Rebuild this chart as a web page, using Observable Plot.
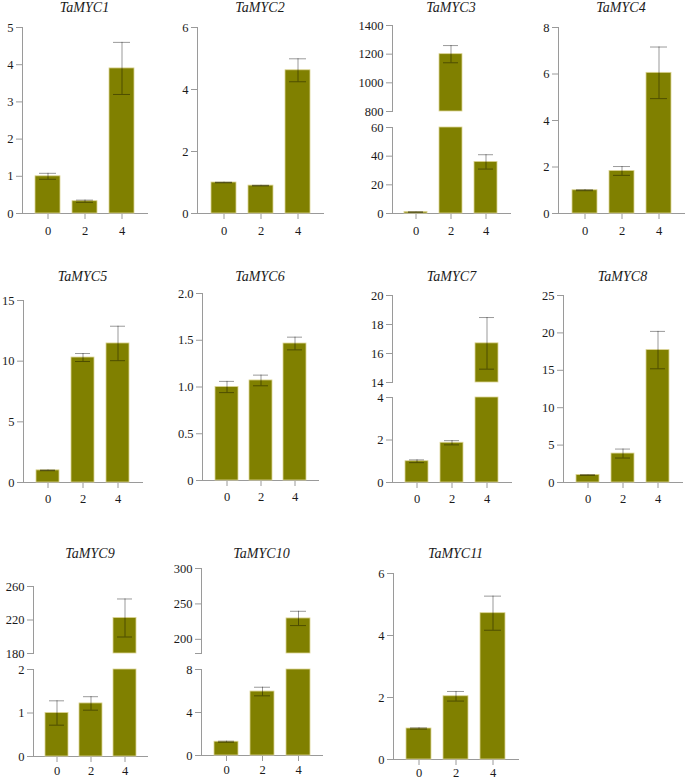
<!DOCTYPE html>
<html>
<head>
<meta charset="utf-8">
<script src="https://cdn.jsdelivr.net/npm/d3@7"></script>
<script src="https://cdn.jsdelivr.net/npm/@observablehq/plot@0.6"></script>
<style>
  html, body { margin: 0; padding: 0; background: #fff; }
  #root { position: relative; width: 685px; height: 783px; background: #fff; overflow: hidden; }
  .seg { position: absolute; }
  .seg svg { display: block; max-width: none; }
  .seg svg text { fill: #1a1a1a; font-family: "Liberation Serif", "Times New Roman", Times, Tinos, "DejaVu Serif", serif; }
  .ttl { position: absolute; font-family: "Liberation Serif", "Times New Roman", Times, Tinos, "DejaVu Serif", serif; font-style: italic;
         font-size: 14px; line-height: 16px; color: #1a1a1a; text-align: center; white-space: nowrap; }
</style>
</head>
<body>
<div id="root"></div>
<script>
// ---------------- data ----------------
const days = ["0", "2", "4"];
const genes = ["TaMYC1","TaMYC2","TaMYC3","TaMYC4","TaMYC5","TaMYC6","TaMYC7","TaMYC8","TaMYC9","TaMYC10","TaMYC11"];

const TaMYC1_mean = [1.0, 0.33, 3.9];   const TaMYC1_sd = [0.08, 0.03, 0.7];
const TaMYC2_mean = [1.0, 0.9, 4.62];   const TaMYC2_sd = [0.01, 0.01, 0.37];
const TaMYC3_mean = [1.0, 1200, 36];    const TaMYC3_sd = [0.1, 60, 5];
const TaMYC4_mean = [1.0, 1.83, 6.05];  const TaMYC4_sd = [0.02, 0.19, 1.11];
const TaMYC5_mean = [1.0, 10.3, 11.46]; const TaMYC5_sd = [0.03, 0.33, 1.42];
const TaMYC6_mean = [1.0, 1.07, 1.465]; const TaMYC6_sd = [0.06, 0.057, 0.068];
const TaMYC7_mean = [1.0, 1.87, 16.7];  const TaMYC7_sd = [0.065, 0.1, 1.78];
const TaMYC8_mean = [1.0, 3.87, 17.7];  const TaMYC8_sd = [0.02, 0.6, 2.5];
const TaMYC9_mean = [1.0, 1.22, 222.4]; const TaMYC9_sd = [0.28, 0.155, 22.7];
const TaMYC10_mean = [1.28, 5.95, 229.5]; const TaMYC10_sd = [0.05, 0.4, 10.1];
const TaMYC11_mean = [1.0, 2.04, 4.72]; const TaMYC11_sd = [0.02, 0.155, 0.55];

// axis domains and ticks (segments listed top to bottom)
const TaMYC1_ticks = [0, 1, 2, 3, 4, 5];
const TaMYC2_ticks = [0, 2, 4, 6];
const TaMYC3_ticksHigh = [800, 1000, 1200, 1400];
const TaMYC3_ticksLow = [0, 20, 40, 60];
const TaMYC4_ticks = [0, 2, 4, 6, 8];
const TaMYC5_ticks = [0, 5, 10, 15];
const TaMYC6_ticks = [0, 0.5, 1.0, 1.5, 2.0];
const TaMYC6_tickLabels = ["0", "0.5", "1.0", "1.5", "2.0"];
const TaMYC7_ticksHigh = [14, 16, 18, 20];
const TaMYC7_ticksLow = [0, 2, 4];
const TaMYC8_ticks = [0, 5, 10, 15, 20, 25];
const TaMYC9_ticksHigh = [180, 220, 260];
const TaMYC9_ticksLow = [0, 1, 2];
const TaMYC10_ticksHigh = [180, 200, 250, 300];
const TaMYC10_tickLabelsHigh = ["", "200", "250", "300"];
const TaMYC10_ticksLow = [0, 4, 8];
const TaMYC11_ticks = [0, 2, 4, 6];

const panels = [
  {name: genes[0], mean: TaMYC1_mean, sd: TaMYC1_sd, segs: [{domain: [0, 5], ticks: TaMYC1_ticks}]},
  {name: genes[1], mean: TaMYC2_mean, sd: TaMYC2_sd, segs: [{domain: [0, 6], ticks: TaMYC2_ticks}]},
  {name: genes[2], mean: TaMYC3_mean, sd: TaMYC3_sd, segs: [{domain: [800, 1400], ticks: TaMYC3_ticksHigh}, {domain: [0, 60], ticks: TaMYC3_ticksLow}]},
  {name: genes[3], mean: TaMYC4_mean, sd: TaMYC4_sd, segs: [{domain: [0, 8], ticks: TaMYC4_ticks}]},
  {name: genes[4], mean: TaMYC5_mean, sd: TaMYC5_sd, segs: [{domain: [0, 15], ticks: TaMYC5_ticks}]},
  {name: genes[5], mean: TaMYC6_mean, sd: TaMYC6_sd, segs: [{domain: [0, 2], ticks: TaMYC6_ticks, labels: TaMYC6_tickLabels}]},
  {name: genes[6], mean: TaMYC7_mean, sd: TaMYC7_sd, segs: [{domain: [14, 20], ticks: TaMYC7_ticksHigh}, {domain: [0, 4], ticks: TaMYC7_ticksLow}]},
  {name: genes[7], mean: TaMYC8_mean, sd: TaMYC8_sd, segs: [{domain: [0, 25], ticks: TaMYC8_ticks}]},
  {name: genes[8], mean: TaMYC9_mean, sd: TaMYC9_sd, segs: [{domain: [180, 260], ticks: TaMYC9_ticksHigh}, {domain: [0, 2], ticks: TaMYC9_ticksLow}]},
  {name: genes[9], mean: TaMYC10_mean, sd: TaMYC10_sd, segs: [{domain: [180, 300], ticks: TaMYC10_ticksHigh, labels: TaMYC10_tickLabelsHigh}, {domain: [0, 8], ticks: TaMYC10_ticksLow}]},
  {name: genes[10], mean: TaMYC11_mean, sd: TaMYC11_sd, segs: [{domain: [0, 6], ticks: TaMYC11_ticks}]}
];

// ---------------- layout (pixels) ----------------
const layout = [
  {left: 22,  right: 147, titleY: 8,   pad: 7, segs: [[27, 213]]},
  {left: 197, right: 323, titleY: 8,   pad: 7, segs: [[27, 213]]},
  {left: 392, right: 510, titleY: 8,   pad: 7, segs: [[25, 111], [127, 213]]},
  {left: 558, right: 684, titleY: 8,   pad: 7, segs: [[27, 213]]},
  {left: 23,  right: 142, titleY: 277, pad: 6, segs: [[300, 482]]},
  {left: 202, right: 318, titleY: 277, pad: 6, segs: [[293, 480]]},
  {left: 392, right: 511, titleY: 277, pad: 6, segs: [[295, 382], [397, 482]]},
  {left: 563, right: 682, titleY: 277, pad: 6, segs: [[295, 482]]},
  {left: 33,  right: 147, titleY: 554, pad: 4, segs: [[586, 653], [669, 756]]},
  {left: 201, right: 322, titleY: 554, pad: 4, segs: [[568, 653], [669, 755]]},
  {left: 393, right: 518, titleY: 554, pad: 3, segs: [[573, 759]]}
];

const root = document.getElementById("root");
const BAR = "#808000";
const FONT = "'Liberation Serif', 'Times New Roman', Times, Tinos, 'DejaVu Serif', serif";

panels.forEach((p, k) => {
  const L = layout[k];
  const rows = days.map((d, i) => ({day: d, value: p.mean[i], lo: p.mean[i] - p.sd[i], hi: p.mean[i] + p.sd[i]}));

  const t = document.createElement("div");
  t.className = "ttl";
  t.textContent = p.name;
  t.style.left = (L.left - 30) + "px";
  t.style.width = (L.right - L.left + 60) + "px";
  t.style.top = (L.titleY - 8) + "px";
  root.appendChild(t);

  p.segs.forEach((seg, j) => {
    const isBottom = j === p.segs.length - 1;
    const [top, bottom] = L.segs[j];
    const mL = 45, mR = 4, mT = 8, mB = isBottom ? 26 : 6;
    const W = (L.right - L.left) + mL + mR;
    const H = (bottom - top) + mT + mB;
    const [d0, d1] = seg.domain;
    const barRows = rows.filter(r => r.value > d0);
    const errRows = rows.filter(r => r.value >= d0 && r.value <= d1);
    const fmt = seg.labels ? (v => seg.labels[seg.ticks.indexOf(v)]) : (v => String(v));
    const errStyle = {stroke: "#000", strokeOpacity: 0.4, strokeWidth: 1};
    const svg = Plot.plot({
      width: W, height: H,
      marginLeft: mL, marginRight: mR, marginTop: mT, marginBottom: mB,
      style: {fontFamily: FONT, fontSize: "12.5px", color: "#9a9a9a", background: "transparent", overflow: "visible"},
      x: {domain: days, padding: 1 / 3, label: null, axis: isBottom ? "bottom" : null, tickSize: 6, tickPadding: L.pad, line: true},
      y: {domain: seg.domain, clamp: true, ticks: seg.ticks, tickFormat: fmt, tickSize: 6, tickPadding: 3, line: true, label: null},
      marks: [
        Plot.barY(barRows, {x: "day", y1: d0, y2: "value", fill: BAR, stroke: "#dcd494", strokeWidth: 0.8}),
        Plot.ruleX(errRows, {x: "day", y1: "lo", y2: "hi", ...errStyle}),
        Plot.tickY(errRows, {x: "day", y: "hi", insetLeft: 4, insetRight: 4, ...errStyle}),
        Plot.tickY(errRows, {x: "day", y: "lo", insetLeft: 4, insetRight: 4, ...errStyle})
      ]
    });
    const wrap = document.createElement("div");
    wrap.className = "seg";
    wrap.style.left = (L.left - mL) + "px";
    wrap.style.top = (top - mT) + "px";
    wrap.appendChild(svg);
    root.appendChild(wrap);
  });
});
</script>
</body>
</html>
